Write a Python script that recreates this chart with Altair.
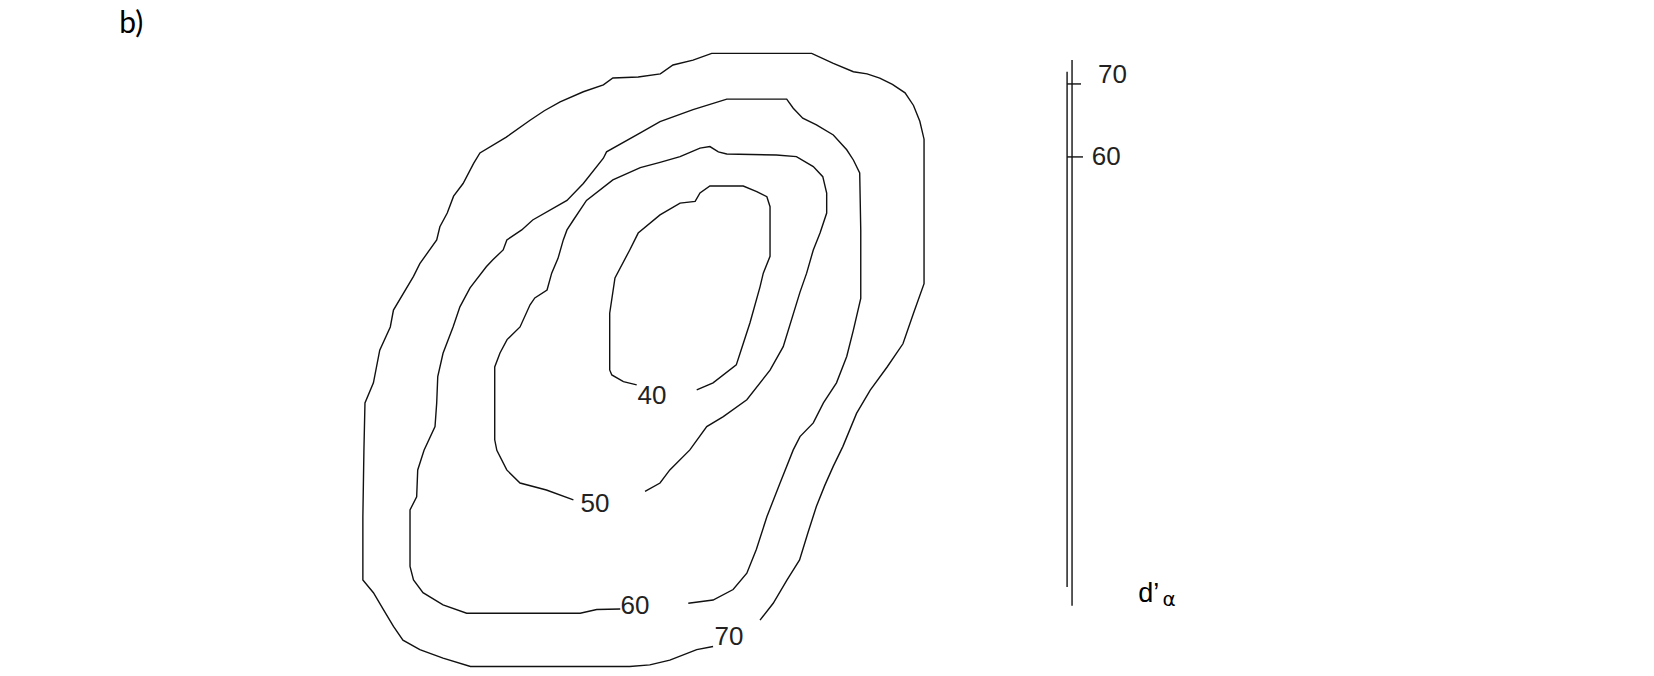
import altair as alt
import pandas as pd

# Contour lines (picture units, 0..1568 wide, 0..641 tall, y downwards)
c70_x = [720.5, 733, 746, 758, 766, 774, 782, 790, 799, 812, 825, 841, 856, 866, 876, 876, 876, 876, 872, 866, 858, 846, 834, 822, 809, 790, 769.5, 722, 674.7, 657, 638, 626, 605, 581, 572, 553, 531, 516, 502.5, 480, 455, 449, 439, 430, 424, 417, 414, 398, 392, 373, 370, 360, 354, 346, 345, 344, 344, 354, 363.5, 373, 382, 398, 420, 446, 520, 597, 616, 635, 660.5, 676]
c70_y = [588, 572, 550, 531, 505, 480, 460, 442, 423.5, 392, 370, 348, 326, 297, 269, 218, 180, 132, 115, 100, 88, 80, 74, 70, 68, 60, 50.6, 50.6, 50.6, 57, 61.6, 70, 73, 74, 80.5, 87, 96.5, 105, 114, 130, 145, 155, 174, 186, 202, 215, 227.5, 250, 262, 294, 310, 332, 363, 382, 427, 490, 550, 562, 578, 594, 607, 616, 624, 632, 632, 632, 630.5, 626, 616, 613]

c60_x = [652.5, 676, 695, 708, 717, 727, 739.5, 752, 758.4, 771, 780.6, 793, 802.7, 809, 816, 816, 816, 815, 809, 802.7, 790, 774, 761, 752, 745.8, 689, 657, 625.7, 607, 575, 572, 553, 537.5, 505, 494.6, 480.5, 477, 467, 461, 445.6, 436, 429.5, 420, 415, 414, 412.4, 402, 396, 395, 388.7, 388.7, 392, 401, 420, 442.4, 500, 550, 565.7, 588]
c60_y = [572, 569, 559, 543.5, 521, 490, 458, 426.6, 414, 401, 382, 363, 338, 313, 283, 246.5, 218, 164, 151.7, 142, 128, 118.5, 112, 102.6, 94, 94, 104, 115.4, 126, 144, 150, 174, 190, 208.6, 218, 227.5, 237, 246.5, 253, 273, 291, 310, 335, 357, 382, 404.5, 427, 445.6, 471, 483.5, 537, 550, 562, 573.6, 581.5, 581.5, 581.5, 578, 577.5]

c50_x = [611.5, 625.7, 635, 654, 670, 685.7, 708, 730, 742.5, 758.4, 764.7, 771, 777.4, 783.7, 783.7, 780, 771, 755, 736, 689, 681, 673, 663.6, 644.7, 625.7, 607, 581, 556, 543.6, 537.5, 534, 529, 523, 518.6, 507, 502.5, 493, 480.7, 474, 469, 469, 469, 471, 480.4, 493, 518, 543.6]
c50_y = [466, 458, 445.6, 426.6, 404.5, 395, 379, 351, 328.7, 277, 259, 237, 221, 202, 183, 167.5, 158, 148.5, 147, 146, 144, 139, 140.4, 148.5, 154, 159, 170.6, 190, 208.6, 218, 227.5, 245, 259, 275, 282.5, 289, 310, 322, 334.7, 348, 373, 417, 427, 445.6, 458, 464.6, 474]

c40_x = [660.5, 676, 698, 701.6, 711, 720.5, 723.6, 730, 730, 730, 727, 717.4, 704.6, 673, 663.6, 659, 644.7, 625.7, 605, 597, 583, 578, 578, 580, 591, 603.6]
c40_y = [369.7, 363, 346, 335, 306, 272, 259, 243, 218, 196, 186.5, 181.7, 176.4, 176.4, 183, 191, 192.6, 203.8, 221, 237, 263.6, 297, 350.8, 355.5, 361.8, 365]

# Scale bar on the right
barL_x = [1011.6, 1011.6]
barL_y = [68, 556.5]
barR_x = [1016.3, 1016.3]
barR_y = [57, 574.5]
tick70_x = [1011.6, 1024.8]
tick70_y = [79.6, 79.6]
tick60_x = [1011.6, 1026.7]
tick60_y = [148.8, 148.8]

# Labels
contour_labels = ["40", "50", "60", "70"]
contour_label_x = [618, 564, 602, 691]
contour_label_y = [375.3, 478, 575, 603.6]

bar_labels = ["70", "60"]
bar_label_x = [1041, 1035]
bar_label_y = [71, 149]

segments = [
    ("c70", c70_x, c70_y), ("c60", c60_x, c60_y),
    ("c50", c50_x, c50_y), ("c40", c40_x, c40_y),
    ("barL", barL_x, barL_y), ("barR", barR_x, barR_y),
    ("tick70", tick70_x, tick70_y), ("tick60", tick60_x, tick60_y),
]
rows = []
for name, xs, ys in segments:
    for i, (x, y) in enumerate(zip(xs, ys)):
        rows.append({"seg": name, "i": i, "x": x, "y": y})
lines_df = pd.DataFrame(rows)

clab_df = pd.DataFrame({"t": contour_labels, "x": contour_label_x, "y": contour_label_y})
blab_df = pd.DataFrame({"t": bar_labels, "x": bar_label_x, "y": bar_label_y})
panel_df = pd.DataFrame({"t": ["b)"], "x": [113], "y": [31]})
d_df = pd.DataFrame({"t": ["d\u2019"], "x": [1079], "y": [571]})
alpha_df = pd.DataFrame({"t": ["\u03b1"], "x": [1102], "y": [575]})

xs = alt.Scale(domain=[0, 1568], nice=False, zero=False)
ys = alt.Scale(domain=[0, 641], nice=False, zero=False, reverse=True)
X = alt.X("x:Q", scale=xs, axis=None)
Y = alt.Y("y:Q", scale=ys, axis=None)

lines = alt.Chart(lines_df).mark_line(color="#111111", strokeWidth=1.4).encode(
    X, Y, detail="seg:N", order="i:Q")

clab = alt.Chart(clab_df).mark_text(font="Liberation Sans", fontSize=26, color="#222222",
                                    align="center", baseline="middle").encode(X, Y, text="t:N")
blab = alt.Chart(blab_df).mark_text(font="Liberation Sans", fontSize=26, color="#222222",
                                    align="left", baseline="middle").encode(X, Y, text="t:N")
panel = alt.Chart(panel_df).mark_text(font="Lato", fontSize=30, color="#000000",
                                      align="left", baseline="alphabetic").encode(X, Y, text="t:N")
dlab = alt.Chart(d_df).mark_text(font="Liberation Sans", fontSize=27, color="#000000",
                                 align="left", baseline="alphabetic").encode(X, Y, text="t:N")
alab = alt.Chart(alpha_df).mark_text(font="DejaVu Sans", fontSize=20, color="#000000",
                                     align="left", baseline="alphabetic").encode(X, Y, text="t:N")

chart = alt.layer(lines, clab, blab, panel, dlab, alab).properties(
    width=1654, height=676, autosize=alt.AutoSizeParams(type="none"), padding=0,
    background="white"
).configure_view(stroke=None)

chart.save("out.html", embed_options={"renderer": "svg", "actions": False})
